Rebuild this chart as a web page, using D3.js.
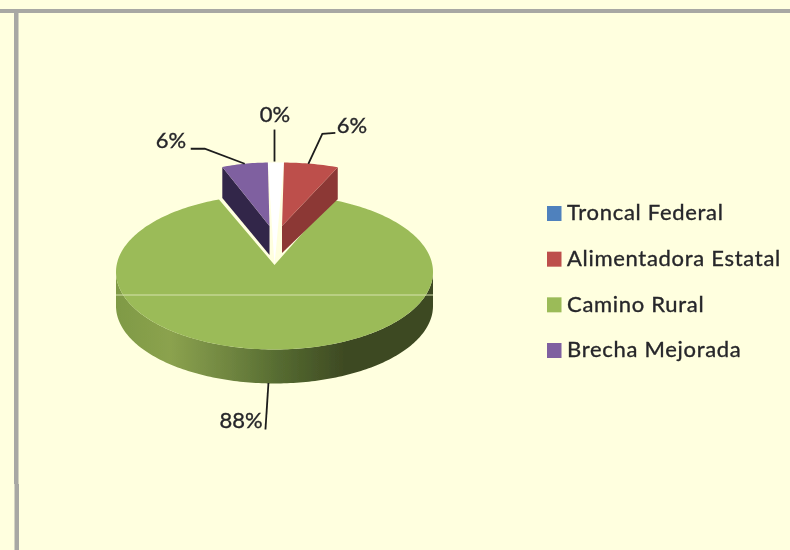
<!DOCTYPE html>
<html>
<head>
<meta charset="utf-8">
<script src="https://cdn.jsdelivr.net/npm/d3@7"></script>
<style>
html, body { margin: 0; padding: 0; background: #ffffdf; overflow: hidden; }
text { font-family: Lato, "Open Sans", sans-serif; fill: #26262a; stroke: #26262a; stroke-width: 0.35px; }
</style>
</head>
<body>
<div id="chart"></div>
<script>
// values
const categories = ["Troncal Federal", "Alimentadora Estatal", "Camino Rural", "Brecha Mejorada"];
const shares = [0.4, 5.7, 88.4, 5.5];
const colors = ["#4f81bd", "#bd4f4c", "#9bbb59", "#7f60a0"];
const sideColors = ["#30557f", "#8c3836", "#5c7032", "#33264a"];

const width = 790, height = 550;

const svg = d3.select("#chart").append("svg")
    .attr("width", width)
    .attr("height", height)
    .style("display", "block");

const defs = svg.append("defs");
defs.append("filter").attr("id", "soft")
    .append("feGaussianBlur").attr("stdDeviation", 0.45);

// side wall of the big slice, light on the left and dark on the right
const wall = defs.append("linearGradient").attr("id", "wall");
[[0, "#7f9a45"], [0.17, "#8ba24e"], [0.36, "#6f8540"], [0.52, "#556a30"], [0.72, "#3e4a23"], [1, "#3d4922"]]
    .forEach(s => wall.append("stop").attr("offset", s[0]).attr("stop-color", s[1]));

// frame, only top and left show
const frame = svg.append("g").style("filter", "url(#soft)");
frame.append("rect").attr("x", -2).attr("y", 9).attr("width", width + 4).attr("height", 4).style("fill", "#a8a8a4");
frame.append("rect").attr("x", 14).attr("y", 9).attr("width", 4.5).attr("height", 475).style("fill", "#a8a8a4");
frame.append("rect").attr("x", 14.5).attr("y", 484).attr("width", 4.5).attr("height", 68).style("fill", "#a8a8a4");

// pie in fake 3d
const cx = 274.5, cy = 272, rx = 158.5, ry = 77.5, apexY = 265, depth = 34;

const pie = d3.pie().sort(null)
    .startAngle(-0.7 * Math.PI / 180)
    .endAngle(2 * Math.PI - 0.7 * Math.PI / 180);
const slices = pie(shares);

const xPos = a => cx + rx * Math.sin(a);
const yPos = a => cy - ry * Math.cos(a);
const line = d3.line();

function arcPoints(a0, a1) {
    const n = Math.ceil(Math.abs(a1 - a0) / 0.02);
    return d3.range(n + 1).map(i => {
        const a = a0 + (a1 - a0) * i / n;
        return [xPos(a), yPos(a)];
    });
}

const pieG = svg.append("g");

// camino rural: front wall first, then the top
const big = slices[2];
const front = arcPoints(Math.PI / 2, 3 * Math.PI / 2);
pieG.append("path")
    .attr("d", line(front.concat(front.map(p => [p[0], p[1] + depth]).reverse())) + "Z")
    .style("fill", "url(#wall)");
pieG.append("path")
    .attr("d", line([[cx, apexY]].concat(arcPoints(big.startAngle, big.endAngle))) + "Z")
    .style("fill", colors[2]);

// pulled out slices, shift and squeeze around their own tip
const pulled = {
    1: {dx: 7.5, dy: -39, sx: 0.97, sy: 0.9, wall: 32, tipWall: 27},
    3: {dx: -5, dy: -39, sx: 0.85, sy: 0.9, wall: 31, tipWall: 29}
};

function pulledPoints(i) {
    const p = pulled[i], s = slices[i];
    return arcPoints(s.startAngle, s.endAngle).map(q => [
        cx + p.dx + (q[0] - cx) * p.sx,
        apexY + p.dy + (q[1] - apexY) * p.sy
    ]);
}

// pale gap left by the 0% slice
const redArc = pulledPoints(1), purpleArc = pulledPoints(3);
pieG.append("path")
    .attr("d", line([[cx, apexY], purpleArc[purpleArc.length - 1], redArc[0]]) + "Z")
    .style("fill", "#ffffff");

[3, 1].forEach(i => {
    const p = pulled[i];
    const pts = pulledPoints(i);
    const tip = [cx + p.dx, apexY + p.dy];
    const outer = i === 1 ? pts[pts.length - 1] : pts[0];
    pieG.append("path")
        .attr("d", line([outer, [outer[0], outer[1] + p.wall], [tip[0], tip[1] + p.tipWall], tip]) + "Z")
        .style("fill", sideColors[i]);
    pieG.append("path")
        .attr("d", line([tip].concat(pts)) + "Z")
        .style("fill", colors[i]);
});

// scan line running over the pie
pieG.append("line")
    .attr("x1", cx - rx).attr("x2", cx + rx)
    .attr("y1", 295).attr("y2", 295)
    .style("stroke", "#d6e3ad")
    .style("stroke-width", 1);

pieG.style("filter", "url(#soft)");

// leader lines and percent labels
const mid = d => (d.startAngle + d.endAngle) / 2;
const labelLayout = [
    {path: [[0, -1], [0, -33]], x: 275, y: 114},
    {path: [[-3, 0], [11, -30], [24, -31]], x: 352, y: 125},
    {path: [[-5, 33.5], [-8, 80]], x: 241, y: 420},
    {path: [[0, 0], [-40, -15], [-54, -15]], x: 171, y: 140}
];

const labelG = svg.append("g").style("filter", "url(#soft)");

slices.forEach((d, i) => {
    const lay = labelLayout[i];
    let start;
    if (i === 1) { start = redArc[Math.floor(redArc.length / 2)]; }
    else if (i === 3) { start = purpleArc[Math.floor(purpleArc.length / 2)]; }
    else if (i === 2) { start = [xPos(mid(d)), yPos(mid(d))]; }
    else { start = [cx, redArc[0][1]]; }
    labelG.append("path")
        .attr("d", line(lay.path.map(p => [start[0] + p[0], start[1] + p[1]])))
        .style("fill", "none")
        .style("stroke", "#1c1c1c")
        .style("stroke-width", 1.8);
    labelG.append("text")
        .attr("x", lay.x)
        .attr("y", lay.y)
        .attr("dy", "0.35em")
        .attr("text-anchor", "middle")
        .style("font-size", "22px")
        .text(d3.format(".0f")(d.data) + "%");
});

// legend
const legendY = d3.scalePoint().domain(categories).range([213.5, 350.5]);
const legendG = svg.append("g").style("filter", "url(#soft)");

categories.forEach((c, i) => {
    legendG.append("rect")
        .attr("x", 547)
        .attr("y", legendY(c) - 7.5)
        .attr("width", 14.5)
        .attr("height", 15)
        .style("fill", colors[i]);
    legendG.append("text")
        .attr("x", 567)
        .attr("y", legendY(c) - 1)
        .attr("dy", "0.35em")
        .style("font-size", "22px")
        .style("letter-spacing", "0.7px")
        .text(c);
});
</script>
</body>
</html>
